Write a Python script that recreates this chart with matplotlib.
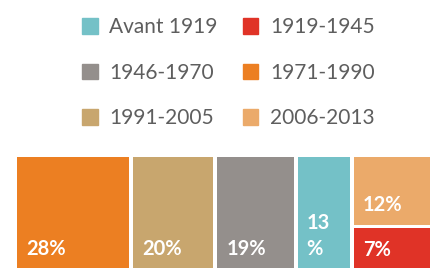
import matplotlib
matplotlib.use("Agg")
from matplotlib import pyplot as plt
from matplotlib.patches import Patch

plt.rcParams['font.family'] = ['Lato', 'DejaVu Sans']

# periods, shares (%), colours
periods = ['1971-1990', '1991-2005', '1946-1970', 'Avant 1919', '2006-2013', '1919-1945']
shares = [28, 20, 19, 13, 12, 7]
labels = ['28%', '20%', '19%', '13\n%', '12%', '7%']
colors = ['#ec7f22', '#c8a66e', '#948f8c', '#74c1c7', '#ebaa6a', '#e03327']

legend_order = ['Avant 1919', '1919-1945', '1946-1970', '1971-1990', '1991-2005', '2006-2013']

gap = 1.0
gap_y = 0.55

fig = plt.figure(figsize=(4.31, 2.72), dpi=100)
ax = fig.add_axes([17/431, 4/272, 413/431, 111/272])

# the last two share one column, stacked
col_total = shares[4] + shares[5]
height = col_total + gap_y

lab = dict(ha='left', va='baseline', color='white', fontsize=14.5, fontweight='bold',
           textcoords='offset pixels')

x = 0
for i in range(4):
    ax.bar(x, height, width=shares[i], bottom=0, align='edge', color=colors[i], linewidth=0)
    ax.annotate(labels[i], xy=(x, 0), xytext=(9, 13), linespacing=1.35, **lab)
    x += shares[i] + gap

# stacked column: red at bottom, peach on top
ax.bar(x, shares[5], width=col_total, bottom=0, align='edge', color=colors[5], linewidth=0)
ax.annotate(labels[5], xy=(x, 0), xytext=(9, 12), **lab)
ax.bar(x, shares[4], width=col_total, bottom=shares[5] + gap_y, align='edge', color=colors[4], linewidth=0)
ax.annotate(labels[4], xy=(x, shares[5] + gap_y), xytext=(9, 14), **lab)
x += col_total

ax.set_xlim(0, x)
ax.set_ylim(0, height)
ax.axis('off')

# legend fills column-wise, so reorder to get rows of two
handles = {p: Patch(color=c) for p, c in zip(periods, colors)}
order = legend_order[0::2] + legend_order[1::2]
fig.legend([handles[p] for p in order], order, ncol=2, loc='upper center',
           bbox_to_anchor=(0.53, 0.99), frameon=False, fontsize=15,
           handlelength=0.75, handleheight=0.75, handletextpad=0.55,
           columnspacing=1.2, labelspacing=1.22, labelcolor='#5e5e5e',
           borderaxespad=0.3)

fig.savefig('out.png', dpi=100)
